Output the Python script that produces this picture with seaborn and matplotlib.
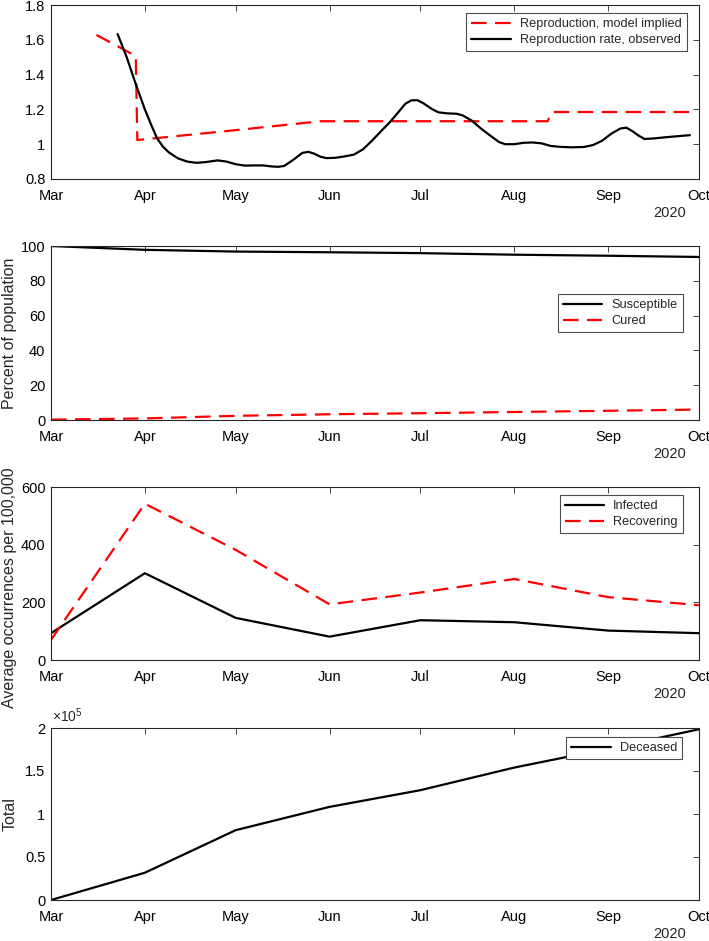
import matplotlib
matplotlib.use("Agg")
import matplotlib.pyplot as plt
from matplotlib.ticker import FuncFormatter
import numpy as np
import pandas as pd
import seaborn as sns

# ---------------- data ----------------
START = pd.Timestamp("2020-03-01")

# Panel 1: reproduction rates (day offsets from 1 Mar 2020)
r_model_days = [15, 28, 28.5, 60, 89, 164, 165.4, 211]
r_model_vals = [1.628, 1.507, 1.024, 1.079, 1.132, 1.132, 1.185, 1.185]

r_obs_days = [22, 25, 28, 31, 33, 35, 37, 39, 42, 45, 48, 51, 55, 58, 61, 64, 67,
              70, 73, 75, 77, 80, 83, 85, 87, 89, 91, 94, 97, 100, 103, 106, 109, 112,
              115, 117, 119, 121, 123, 126, 128, 131, 134, 136, 139, 142, 145, 148, 150,
              153, 156, 159, 162, 165, 168, 172, 176, 179, 182, 185, 188, 190, 192, 194,
              196, 199, 203, 207, 211]
r_obs_vals = [1.633, 1.50, 1.345, 1.20, 1.115, 1.035, 0.985, 0.952, 0.918, 0.90,
              0.893, 0.897, 0.907, 0.900, 0.885, 0.877, 0.878, 0.878, 0.872, 0.870,
              0.875, 0.91, 0.95, 0.956, 0.945, 0.928, 0.920, 0.922, 0.930, 0.940, 0.97,
              1.02, 1.075, 1.128, 1.19, 1.232, 1.252, 1.253, 1.235, 1.20, 1.183, 1.177,
              1.175, 1.165, 1.135, 1.09, 1.05, 1.012, 1.0, 1.0, 1.008, 1.01, 1.005, 0.99,
              0.985, 0.982, 0.984, 0.995, 1.02, 1.06, 1.09, 1.095, 1.075, 1.05, 1.03,
              1.033, 1.04, 1.046, 1.052]

# Monthly series
months = ["2020-03-01", "2020-04-01", "2020-05-01", "2020-06-01", "2020-07-01",
          "2020-08-01", "2020-09-01", "2020-10-01"]
susceptible = [100.0, 97.8, 96.8, 96.4, 95.9, 95.0, 94.4, 93.7]
cured = [0.2, 0.9, 2.4, 3.3, 3.9, 4.6, 5.3, 6.0]
infected = [93, 301, 146, 81, 138, 131, 102, 93]
recovering = [70, 542, 382, 193, 234, 281, 218, 190]
deceased = [0, 31700, 81200, 108300, 127700, 154000, 176000, 198500]

month_labels = ["Mar", "Apr", "May", "Jun", "Jul", "Aug", "Sep", "Oct"]

# ---------------- style ----------------
sns.set_style("white")
plt.rcParams["font.family"] = ["Liberation Sans", "DejaVu Sans"]
plt.rcParams["mathtext.fontset"] = "custom"
plt.rcParams["mathtext.rm"] = "Liberation Sans"
plt.rcParams["mathtext.it"] = "Liberation Sans"

SPINE = "#262626"
RED = "#ff0000"
DASH = (0, (7, 3.8))
LW = 1.6
LABEL_FS = 11.5

fig = plt.figure(figsize=(7.09, 9.41), dpi=100)
left, width = 51 / 709, 648 / 709
pos = [(179, 174), (420, 174), (660, 173), (900, 172)]
axes = [fig.add_axes([left, 1 - b / 941, width, h / 941]) for b, h in pos]

def to_dates(days):
    return START + pd.to_timedelta(np.array(days, dtype=float), unit="D")

month_dates = pd.to_datetime(months)

def style_axes(ax):
    ax.set_xlim(pd.Timestamp("2020-03-01"), pd.Timestamp("2020-10-01"))
    ax.set_xticks(month_dates)
    ax.set_xticklabels(month_labels)
    ax.set_xlabel("")
    for s in ax.spines.values():
        s.set_color(SPINE)
        s.set_linewidth(0.8)
        s.set_visible(True)
    ax.tick_params(direction="in", top=True, right=True, length=4, width=0.6,
                   color=SPINE, labelsize=10.5, labelcolor="black")
    ax.tick_params(axis="x", pad=7)
    ax.tick_params(axis="y", pad=4)
    ax.text(0.955, -0.195, "2020", transform=ax.transAxes, ha="center", va="center",
            fontsize=10.5)
    ax.yaxis.set_major_formatter(FuncFormatter(lambda v, p: f"{v:g}"))

def legend(ax, anchor):
    leg = ax.legend(loc="upper right", bbox_to_anchor=anchor, borderaxespad=0,
                    fontsize=9.2, handlelength=3.1, frameon=True, fancybox=False,
                    framealpha=1, edgecolor="#4d4d4d", borderpad=0.4,
                    labelspacing=0.32, handletextpad=0.7)
    leg.get_frame().set_linewidth(0.8)

# Panel 1
ax = axes[0]
sns.lineplot(x=to_dates(r_model_days), y=r_model_vals, ax=ax, color=RED, lw=LW,
             linestyle=DASH, sort=False, estimator=None,
             label="Reproduction, model implied")
sns.lineplot(x=to_dates(r_obs_days), y=r_obs_vals, ax=ax, color="black", lw=LW,
             sort=False, estimator=None, label="Reproduction rate, observed")
ax.set_ylim(0.8, 1.8)
ax.set_yticks([0.8, 1, 1.2, 1.4, 1.6, 1.8])
style_axes(ax)
legend(ax, (0.981, 0.954))

# Panel 2
ax = axes[1]
sns.lineplot(x=month_dates, y=susceptible, ax=ax, color="black", lw=LW,
             estimator=None, label="Susceptible")
sns.lineplot(x=month_dates, y=cured, ax=ax, color=RED, lw=LW, linestyle=DASH,
             estimator=None, label="Cured")
ax.set_ylim(0, 100)
ax.set_yticks([0, 20, 40, 60, 80, 100])
style_axes(ax)
ax.set_ylabel("Percent of population", fontsize=LABEL_FS)
ax.yaxis.set_label_coords(-0.052, 0.5)
legend(ax, (0.975, 0.724))

# Panel 3
ax = axes[2]
sns.lineplot(x=month_dates, y=infected, ax=ax, color="black", lw=LW,
             estimator=None, label="Infected")
sns.lineplot(x=month_dates, y=recovering, ax=ax, color=RED, lw=LW, linestyle=DASH,
             estimator=None, label="Recovering")
ax.set_ylim(0, 600)
ax.set_yticks([0, 200, 400, 600])
style_axes(ax)
ax.set_ylabel("Average occurrences per 100,000", fontsize=LABEL_FS)
ax.yaxis.set_label_coords(-0.052, 0.42)
legend(ax, (0.975, 0.954))

# Panel 4
ax = axes[3]
sns.lineplot(x=month_dates, y=deceased, ax=ax, color="black", lw=LW,
             estimator=None, label="Deceased")
ax.set_ylim(0, 200000)
ax.set_yticks([0, 50000, 100000, 150000, 200000])
style_axes(ax)
ax.yaxis.set_major_formatter(FuncFormatter(lambda v, p: f"{v/1e5:g}"))
ax.set_ylabel("Total", fontsize=LABEL_FS)
ax.yaxis.set_label_coords(-0.052, 0.5)
ax.text(0.002, 1.015, r"$\times10^{5}$", transform=ax.transAxes, ha="left",
        va="bottom", fontsize=10)
legend(ax, (0.974, 0.948))

fig.savefig("out.png", dpi=100)
